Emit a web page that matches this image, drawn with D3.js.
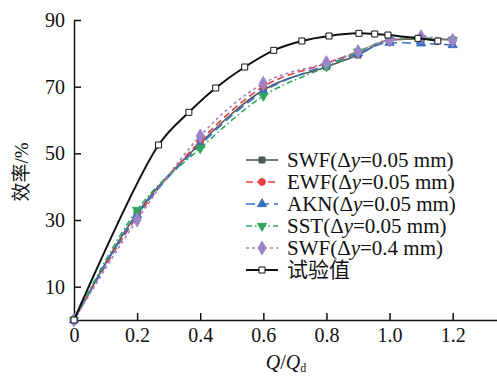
<!DOCTYPE html>
<html>
<head>
<meta charset="utf-8">
<script src="https://cdn.jsdelivr.net/npm/d3@7"></script>
<style>
  body { margin: 0; background: #fff; }
</style>
</head>
<body>
<div id="chart"></div>
<script>
// flow ratio Q/Qd for the CFD runs
const qCfd = [0, 0.2, 0.4, 0.6, 0.8, 0.9, 1.0, 1.1, 1.2];
const swf005 = [0, 32, 53, 69, 76, 79.5, 84, 84.3, 84];
const ewf005 = [0, 31, 53.7, 70, 77, 80.5, 84, 84.5, 84.2];
const akn005 = [0, 31.5, 52.5, 68.5, 76.5, 80, 83.2, 83, 82.5];
const sst005 = [0, 33, 51.5, 67.2, 76, 80.5, 84, 84.5, 84];
const swf04 = [0, 30, 55.2, 71, 77.2, 80.5, 84, 85, 83.9];

// test data
const qExp = [0, 0.268, 0.364, 0.449, 0.541, 0.633, 0.722, 0.808, 0.903, 0.953, 0.995, 1.09, 1.153];
const effExp = [0, 52.5, 62.3, 69.6, 75.9, 80.9, 83.7, 85.2, 86.0, 85.8, 85.5, 84.5, 83.7];

const xTicks = [0, 0.2, 0.4, 0.6, 0.8, 1.0, 1.2];
const yTicks = [10, 30, 50, 70, 90];

const width = 497, height = 376;
const serif = "'Liberation Serif', 'Times New Roman', serif";
const cjk = "'Liberation Serif', 'Noto Sans CJK SC', serif";

const series = [
  { name: "SWF", dy: "0.05", q: qCfd, v: swf005, color: "#4f5a5a", dash: null, marker: "square", fill: "#4f5a5a" },
  { name: "EWF", dy: "0.05", q: qCfd, v: ewf005, color: "#e8403f", dash: "7,4", marker: "circle", fill: "#e8403f" },
  { name: "AKN", dy: "0.05", q: qCfd, v: akn005, color: "#3b6fc2", dash: "9,5", marker: "triangle", fill: "#3b6fc2" },
  { name: "SST", dy: "0.05", q: qCfd, v: sst005, color: "#2fa85c", dash: "6,3,1.5,3", marker: "triangleDown", fill: "#2fa85c" },
  { name: "SWF", dy: "0.4", q: qCfd, v: swf04, color: "#9d84c8", dash: "3,3", marker: "diamond", fill: "#9d84c8" },
  { name: "试验值", dy: null, q: qExp, v: effExp, color: "#111", dash: null, marker: "square", fill: "#fff", width: 2 }
];

const svg = d3.select("#chart").append("svg")
  .attr("width", width)
  .attr("height", height);

const x = d3.scaleLinear().domain([0, 1.35]).range([74, 500]);
const y = d3.scaleLinear().domain([0, 90]).range([320, 20]);

const symbolFor = (m, s) => {
  const types = {
    square: d3.symbolSquare, circle: d3.symbolCircle, triangle: d3.symbolTriangle,
    triangleDown: d3.symbolTriangle, diamond: d3.symbolDiamond
  };
  return d3.symbol().type(types[m]).size(s);
};

// axes
const xAxis = svg.append("g")
  .attr("transform", `translate(0,${y(0)})`)
  .call(d3.axisBottom(x).tickValues(xTicks).tickSizeInner(-7).tickSizeOuter(0)
    .tickFormat(d => d === 0 ? "0" : d3.format(".1f")(d)));
xAxis.select(".domain").attr("stroke", "#111").attr("stroke-width", 1.5);
xAxis.selectAll(".tick line").attr("stroke", "#111").attr("stroke-width", 1.5);
xAxis.selectAll(".tick text").attr("y", 8).style("font-size", "20px")
  .style("font-family", serif).attr("fill", "#111");

const yAxis = svg.append("g")
  .attr("transform", `translate(${x(0)},0)`)
  .call(d3.axisLeft(y).tickValues(yTicks).tickSizeInner(-7).tickSizeOuter(0));
yAxis.select(".domain").attr("stroke", "#111").attr("stroke-width", 1.5);
yAxis.selectAll(".tick line").attr("stroke", "#111").attr("stroke-width", 1.5);
yAxis.selectAll(".tick text").attr("x", -9).style("font-size", "20px")
  .style("font-family", serif).attr("fill", "#111");

// axis titles
svg.append("text")
  .attr("transform", `translate(28,172) rotate(-90)`)
  .attr("text-anchor", "middle")
  .style("font-size", "19px")
  .style("font-family", cjk)
  .attr("fill", "#111")
  .text("效率/%");

const xt = svg.append("text")
  .attr("x", 286).attr("y", 369)
  .attr("text-anchor", "middle")
  .style("font-size", "20px")
  .style("font-family", serif)
  .attr("fill", "#111");
xt.append("tspan").attr("font-style", "italic").text("Q");
xt.append("tspan").text("/");
xt.append("tspan").attr("font-style", "italic").text("Q");
xt.append("tspan").style("font-size", "12px").attr("dy", 3).text("d");

// lines
const line = d3.line().x(d => x(d[0])).y(d => y(d[1])).curve(d3.curveMonotoneX);
const expLine = d3.line().x(d => x(d[0])).y(d => y(d[1])).curve(d3.curveCatmullRom.alpha(0.5));

series.forEach(s => {
  const pts = s.q.map((q, i) => [q, s.v[i]]);
  svg.append("path")
    .datum(pts)
    .attr("fill", "none")
    .attr("stroke", s.color)
    .attr("stroke-width", s.width || 1.6)
    .attr("stroke-dasharray", s.dash)
    .attr("d", s.dy ? line : expLine);
  svg.append("g").selectAll("path")
    .data(pts)
    .join("path")
    .attr("transform", d => `translate(${x(d[0])},${y(d[1])})` + (s.marker === "triangleDown" ? " rotate(180)" : ""))
    .attr("d", symbolFor(s.marker, s.marker === "diamond" ? 55 : 36)())
    .attr("fill", s.fill)
    .attr("stroke", s.fill === "#fff" ? "#111" : s.color)
    .attr("stroke-width", 1);
});

// legend
const legend = svg.append("g");
series.forEach((s, i) => {
  const ly = 160 + i * 22;
  const g = legend.append("g").attr("transform", `translate(0,${ly})`);
  g.append("line")
    .attr("x1", 246).attr("x2", 278)
    .attr("stroke", s.color)
    .attr("stroke-width", s.width || 1.6)
    .attr("stroke-dasharray", s.dash);
  g.append("path")
    .attr("transform", `translate(262,0)` + (s.marker === "triangleDown" ? " rotate(180)" : ""))
    .attr("d", symbolFor(s.marker, s.marker === "diamond" ? 55 : 36)())
    .attr("fill", s.fill)
    .attr("stroke", s.fill === "#fff" ? "#111" : s.color);
  const t = g.append("text")
    .attr("x", 287).attr("y", 7)
    .style("font-size", "21px")
    .style("font-family", cjk)
    .attr("fill", "#111");
  if (s.dy) {
    t.append("tspan").text(s.name + "(Δ");
    t.append("tspan").attr("font-style", "italic").text("y");
    t.append("tspan").text("=" + s.dy + " mm)");
  } else {
    t.text(s.name);
  }
});
</script>
</body>
</html>
